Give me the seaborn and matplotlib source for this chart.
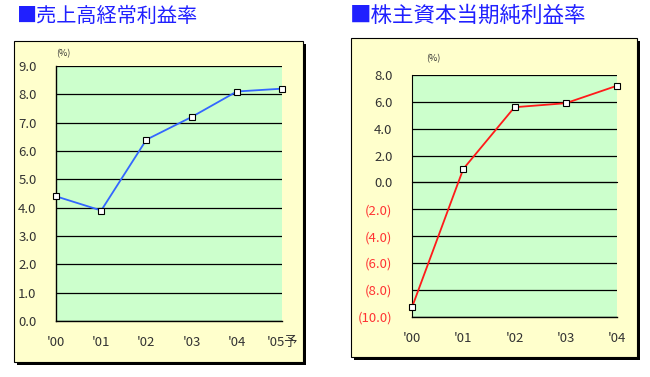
import numpy as np
import pandas as pd
import matplotlib
matplotlib.use("Agg")
import matplotlib.pyplot as plt
from matplotlib.patches import Rectangle
from matplotlib.ticker import FuncFormatter, MultipleLocator
import seaborn as sns

# data
years_left = ["'00", "'01", "'02", "'03", "'04", "'05予"]
ordinary_margin = [4.4, 3.9, 6.4, 7.2, 8.1, 8.2]

years_right = ["'00", "'01", "'02", "'03", "'04"]
roe = [-9.3, 1.0, 5.6, 5.9, 7.2]

title_left = "■売上高経常利益率"
title_right = "■株主資本当期純利益率"

sns.set_style("white")
plt.rcParams["font.family"] = ["Noto Sans CJK JP", "DejaVu Sans"]

W, H = 650, 377
fig = plt.figure(figsize=(6.5, 3.77), dpi=100)
fig.patch.set_facecolor("white")

cream = "#ffffcc"
green = "#ccffcc"


def panel(x0, y0, x1, y1):
    # cream box with a black drop shadow, pixel coords from top-left
    fig.patches.append(Rectangle((x0 / W + 3 / W, 1 - y1 / H - 3 / H), (x1 - x0) / W, (y1 - y0) / H,
                                 transform=fig.transFigure, facecolor="black", edgecolor="none", zorder=-2))
    fig.patches.append(Rectangle((x0 / W, 1 - y1 / H), (x1 - x0) / W, (y1 - y0) / H,
                                 transform=fig.transFigure, facecolor=cream, edgecolor="black",
                                 linewidth=0.8, zorder=-1))


def fmt_paren(v, pos):
    if v < 0:
        return "(%.1f)" % abs(v)
    return "%.1f" % v


panel(14, 41, 303, 362)
panel(351, 38, 637, 357)

fig.text(17 / W, 1 - 16 / H, title_left, fontsize=14.5, color="#2020ff", va="center", ha="left")
fig.text(350 / W, 1 - 16 / H, title_right, fontsize=15.5, color="#2020ff", va="center", ha="left")

# ---- left chart
ax1 = fig.add_axes([56 / W, 1 - 321 / H, 226 / W, 255 / H])
ax1.set_facecolor(green)
df1 = pd.DataFrame({"x": np.arange(len(years_left)), "y": ordinary_margin})
sns.lineplot(data=df1, x="x", y="y", ax=ax1, color="#3366ff", linewidth=1.3,
             marker="s", markersize=5, markerfacecolor="white", markeredgecolor="black",
             markeredgewidth=0.8, clip_on=False, zorder=5)
ax1.set_xlim(0, len(years_left) - 1)
ax1.set_ylim(0, 9)
ax1.yaxis.set_major_locator(MultipleLocator(1))
ax1.yaxis.set_major_formatter(FuncFormatter(fmt_paren))
ax1.grid(axis="y", color="black", linewidth=0.9)
ax1.set_xticks(np.arange(len(years_left)))
ax1.set_xticklabels(years_left)
ax1.tick_params(axis="x", direction="in", length=4, width=0.8, color="black", pad=11, labelsize=9.5, labelcolor="#333333")
ax1.tick_params(axis="y", length=0, pad=14, labelsize=9.5, labelcolor="#333333")
ax1.set_xlabel("")
ax1.set_ylabel("")
for s in ["top", "right"]:
    ax1.spines[s].set_visible(False)
for s in ["left", "bottom"]:
    ax1.spines[s].set_color("black")
    ax1.spines[s].set_linewidth(1)
ax1.text(0.0, 1.03, "(%)", transform=ax1.transAxes, fontsize=6.5, ha="left", va="bottom", color="#333333")

# ---- right chart
ax2 = fig.add_axes([412 / W, 1 - 316.7 / H, 205 / W, 241.7 / H])
ax2.set_facecolor(green)
df2 = pd.DataFrame({"x": np.arange(len(years_right)), "y": roe})
sns.lineplot(data=df2, x="x", y="y", ax=ax2, color="#ff1a1a", linewidth=1.3,
             marker="s", markersize=5, markerfacecolor="white", markeredgecolor="black",
             markeredgewidth=0.8, clip_on=False, zorder=5)
ax2.set_xlim(0, len(years_right) - 1)
ax2.set_ylim(-10, 8)
ax2.yaxis.set_major_locator(MultipleLocator(2))
ax2.yaxis.set_major_formatter(FuncFormatter(fmt_paren))
ax2.grid(axis="y", color="black", linewidth=0.9)
ax2.set_xticks(np.arange(len(years_right)))
ax2.spines["bottom"].set_position(("data", 0))
ax2.tick_params(axis="x", direction="in", length=4, width=0.8, color="black", labelbottom=False)
ax2.tick_params(axis="y", length=0, pad=14, labelsize=9.5, labelcolor="#333333")
for lab, v in zip(ax2.get_yticklabels(), ax2.get_yticks()):
    if v < 0:
        lab.set_color("#ff3333")
ax2.set_xlabel("")
ax2.set_ylabel("")
for s in ["top", "right"]:
    ax2.spines[s].set_visible(False)
ax2.spines["left"].set_color("black")
ax2.spines["bottom"].set_color("black")

sec = ax2.secondary_xaxis("bottom")
sec.set_xticks(np.arange(len(years_right)))
sec.set_xticklabels(years_right)
sec.tick_params(length=0, pad=11, labelsize=9.5, labelcolor="#333333")
sec.spines["bottom"].set_color("black")
sec.spines["bottom"].set_linewidth(1)
ax2.text(0.07, 1.05, "(%)", transform=ax2.transAxes, fontsize=6.5, ha="left", va="bottom", color="#333333")

fig.savefig("out.png", dpi=100)
